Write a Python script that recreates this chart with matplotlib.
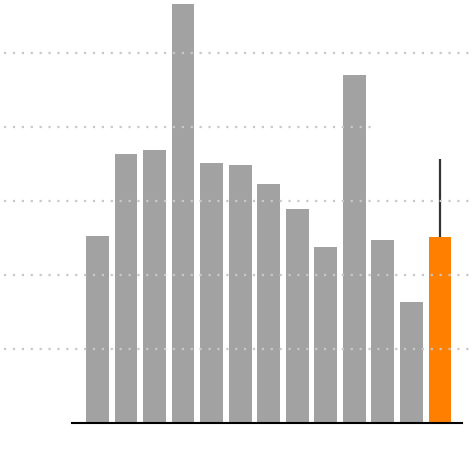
import matplotlib
matplotlib.use("Agg")
import matplotlib.pyplot as plt
import numpy as np

# bar heights, in gridline units (no labels in the picture)
values = [2.53, 3.64, 3.69, 5.67, 3.51, 3.49, 3.23, 2.89, 2.38, 4.71, 2.48, 1.64, 2.52]
colors = ["#a2a2a2"] * 12 + ["#ff7f00"]
err_up = 1.05
grid_vals = [1, 2, 3, 4, 5]

fig = plt.figure(figsize=(4.74, 4.72), dpi=100)
ax = fig.add_axes([72 / 474, 49 / 472, 390 / 474, 423 / 472])

x = np.arange(len(values))
ax.bar(x, values, width=0.8, color=colors, zorder=2)
ax.errorbar(x[-1], values[-1], yerr=[[0], [err_up]], fmt="none",
            ecolor="#333333", elinewidth=1.6, capsize=0, zorder=3)

for g in grid_vals:
    right = 0.774 if g == 4 else 1.02
    ax.axhline(g, xmin=-0.174, xmax=right, color="#c8c8c8", linestyle=(0, (1, 3)),
               linewidth=1.6, clip_on=False, zorder=4)

ax.set_xlim(-0.89, 12.77)
ax.set_ylim(0, 5.72)
for s in ["top", "right", "left"]:
    ax.spines[s].set_visible(False)
ax.spines["bottom"].set_color("black")
ax.spines["bottom"].set_linewidth(1.5)
ax.set_xticks([])
ax.set_yticks([])

fig.savefig("out.png", dpi=100)
